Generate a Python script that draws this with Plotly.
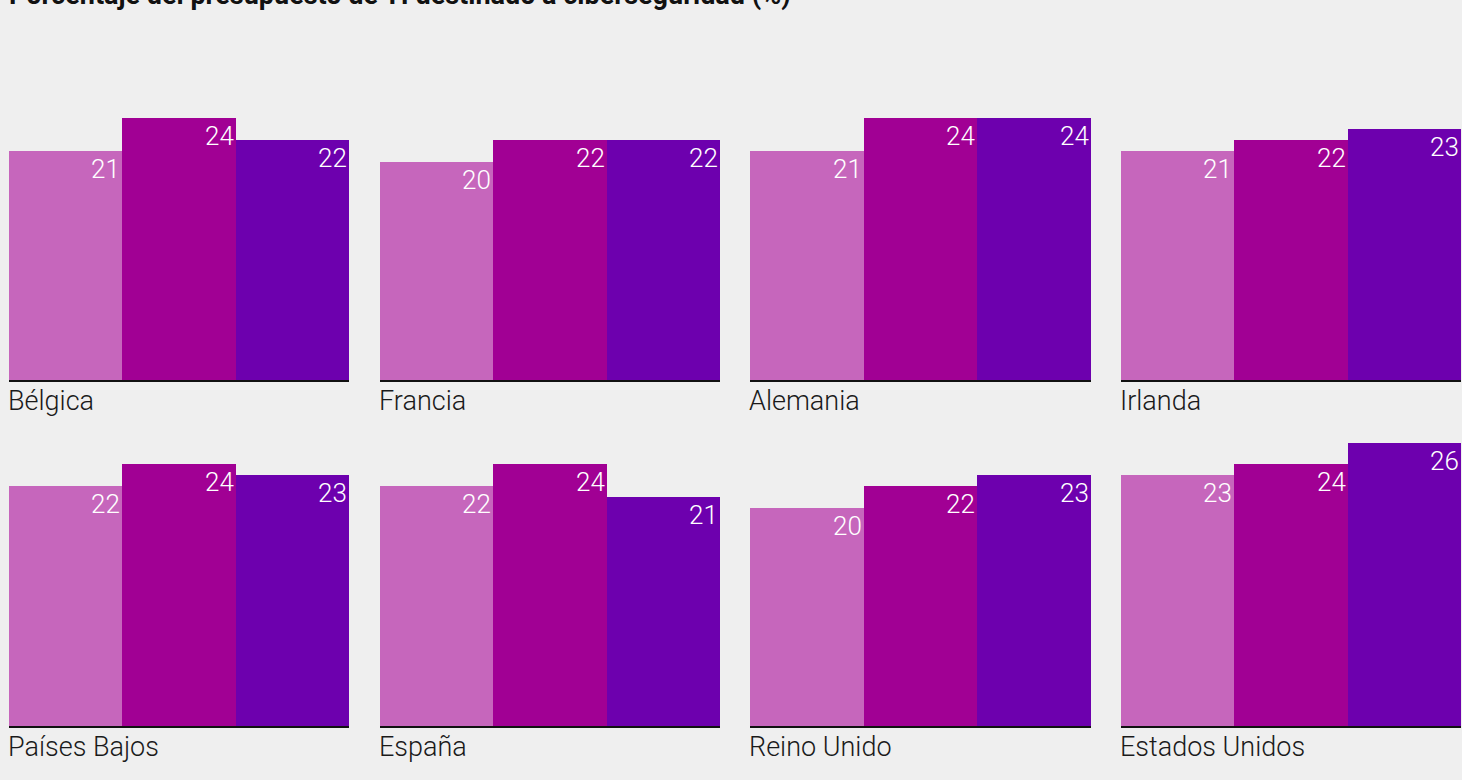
import plotly.graph_objects as go

# Porcentaje del presupuesto de TI destinado a ciberseguridad, por país
countries = ["Bélgica", "Francia", "Alemania", "Irlanda",
             "Países Bajos", "España", "Reino Unido", "Estados Unidos"]
series_names = ["Serie 1", "Serie 2", "Serie 3"]
values_s1 = [21, 20, 21, 21, 22, 22, 20, 23]
values_s2 = [24, 22, 24, 22, 24, 24, 22, 24]
values_s3 = [22, 22, 24, 23, 23, 21, 23, 26]
series_colors = ["#c666bc", "#a10094", "#6d00ae"]

title_text = "Porcentaje del presupuesto de TI destinado a ciberseguridad (%)"

W, H = 1462, 780
BG = "#efefef"
FONT = "Roboto"

# panel placement in pixels: columns (left, right), rows (top, baseline)
cols_px = [(9, 349), (380, 720), (750, 1091), (1121, 1461)]
rows_px = [(53, 380), (399, 726)]
Y_MAX = 30

fig = go.Figure()
annotations = []
all_values = [values_s1, values_s2, values_s3]

for k, country in enumerate(countries):
    r, c = divmod(k, 4)
    ax_id = "" if k == 0 else str(k + 1)
    xa, ya = "x" + ax_id, "y" + ax_id
    x0, x1 = cols_px[c]
    top, base = rows_px[r]
    fig.update_layout(**{
        "xaxis" + ax_id: dict(
            domain=[x0 / W, x1 / W], anchor=ya, type="category",
            categoryorder="array", categoryarray=series_names,
            range=[-0.5, len(series_names) - 0.5],
            showline=True, linecolor="#111111", linewidth=1.5,
            showticklabels=False, ticks="", showgrid=False, zeroline=False,
            fixedrange=True,
        ),
        "yaxis" + ax_id: dict(
            domain=[(H - base) / H, (H - top) / H], anchor=xa,
            range=[0, Y_MAX], visible=False, showgrid=False,
            zeroline=False, fixedrange=True,
        ),
    })
    for j, name in enumerate(series_names):
        v = all_values[j][k]
        fig.add_trace(go.Bar(
            x=[name], y=[v], xaxis=xa, yaxis=ya,
            marker=dict(color=series_colors[j], line=dict(width=0)),
            name=name, legendgroup=name, showlegend=False,
            hovertemplate=f"{country}<br>%{{y}}%<extra></extra>",
        ))
        # value label, right-aligned at the top of each bar
        annotations.append(dict(
            x=j + 0.5, y=v, xref=xa, yref=ya,
            xanchor="right", yanchor="top", xshift=0, yshift=-1,
            text=str(v), showarrow=False,
            font=dict(family=FONT, size=26, color="white", weight=300),
        ))
    # country name under the baseline
    annotations.append(dict(
        x=x0 / W, y=(H - base) / H, xref="paper", yref="paper",
        xanchor="left", yanchor="top", yshift=-3, xshift=-3,
        text=country, showarrow=False,
        font=dict(family=FONT, size=27, color="#1a1a1a", weight=300),
    ))

annotations.append(dict(
    x=9 / W, y=(H - 13) / H, xref="paper", yref="paper",
    xanchor="left", yanchor="bottom", xshift=-2,
    text=title_text, showarrow=False,
    font=dict(family=FONT, size=27, color="#111111", weight=700),
))

fig.update_layout(
    width=W, height=H,
    margin=dict(l=0, r=0, t=0, b=0),
    paper_bgcolor=BG, plot_bgcolor=BG,
    bargap=0, barmode="group",
    showlegend=False,
    annotations=annotations,
)

fig.write_html("out.html", config={"displayModeBar": False})
